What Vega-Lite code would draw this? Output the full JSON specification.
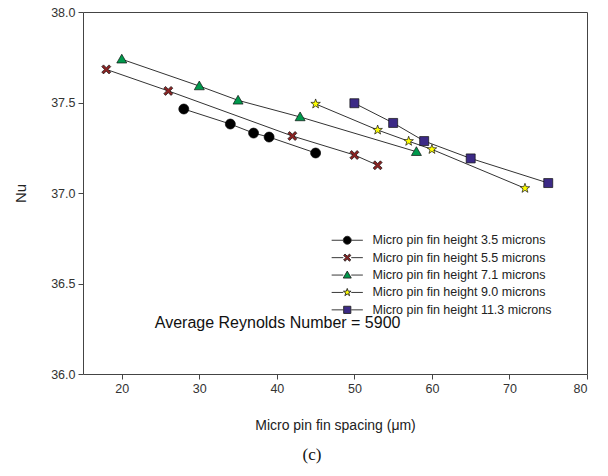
{
  "$schema": "https://vega.github.io/schema/vega-lite/v6.json",
  "width": 504,
  "height": 362,
  "autosize": "none",
  "padding": {"left": 83, "top": 12, "right": 21, "bottom": 102},
  "background": "white",
  "config": {
    "font": "Liberation Sans",
    "view": {"stroke": "#444", "strokeWidth": 1},
    "axis": {"grid": false, "domain": false, "tickColor": "#444", "tickSize": 5, "labelFont": "Liberation Sans", "labelFontSize": 12.5, "labelColor": "#333", "titleFont": "Liberation Sans", "titleFontSize": 14, "titleFontWeight": "normal", "titleColor": "#222"},
    "legend": {"title": null, "orient": "none", "legendX": 258, "legendY": 222, "padding": 0, "symbolSize": 64, "labelOffset": 19, "labelFontSize": 12.5, "labelColor": "#222", "labelFont": "Liberation Sans", "rowPadding": 4.4, "labelLimit": 300}
  },
  "title": {"text": "(c)", "orient": "bottom", "font": "Liberation Serif", "fontSize": 17, "fontWeight": "normal", "color": "#111", "anchor": "middle", "dx": -23, "offset": 14},
  "data": {"values": [
    {"series": "Micro pin fin height 3.5 microns", "spacing": 28, "nu": 37.464},
    {"series": "Micro pin fin height 3.5 microns", "spacing": 34, "nu": 37.381},
    {"series": "Micro pin fin height 3.5 microns", "spacing": 37, "nu": 37.331},
    {"series": "Micro pin fin height 3.5 microns", "spacing": 39, "nu": 37.309},
    {"series": "Micro pin fin height 3.5 microns", "spacing": 45, "nu": 37.221},
    {"series": "Micro pin fin height 5.5 microns", "spacing": 18, "nu": 37.683},
    {"series": "Micro pin fin height 5.5 microns", "spacing": 26, "nu": 37.564},
    {"series": "Micro pin fin height 5.5 microns", "spacing": 42, "nu": 37.315},
    {"series": "Micro pin fin height 5.5 microns", "spacing": 50, "nu": 37.21},
    {"series": "Micro pin fin height 5.5 microns", "spacing": 53, "nu": 37.153},
    {"series": "Micro pin fin height 7.1 microns", "spacing": 20, "nu": 37.739},
    {"series": "Micro pin fin height 7.1 microns", "spacing": 30, "nu": 37.591},
    {"series": "Micro pin fin height 7.1 microns", "spacing": 35, "nu": 37.512},
    {"series": "Micro pin fin height 7.1 microns", "spacing": 43, "nu": 37.42},
    {"series": "Micro pin fin height 7.1 microns", "spacing": 58, "nu": 37.228},
    {"series": "Micro pin fin height 9.0 microns", "spacing": 45, "nu": 37.492},
    {"series": "Micro pin fin height 9.0 microns", "spacing": 53, "nu": 37.348},
    {"series": "Micro pin fin height 9.0 microns", "spacing": 57, "nu": 37.286},
    {"series": "Micro pin fin height 9.0 microns", "spacing": 60, "nu": 37.241},
    {"series": "Micro pin fin height 9.0 microns", "spacing": 72, "nu": 37.026},
    {"series": "Micro pin fin height 11.3 microns", "spacing": 50, "nu": 37.496},
    {"series": "Micro pin fin height 11.3 microns", "spacing": 55, "nu": 37.387},
    {"series": "Micro pin fin height 11.3 microns", "spacing": 59, "nu": 37.287},
    {"series": "Micro pin fin height 11.3 microns", "spacing": 65, "nu": 37.191},
    {"series": "Micro pin fin height 11.3 microns", "spacing": 75, "nu": 37.055}
  ]},
  "layer": [
    {
      "mark": {"type": "line", "color": "#333", "strokeWidth": 1},
      "encoding": {
        "x": {"field": "spacing", "type": "quantitative", "scale": {"domain": [15, 80], "nice": false, "zero": false}, "axis": {"title": "Micro pin fin spacing (\u03bcm)", "values": [20, 30, 40, 50, 60, 70, 80], "labelPadding": 3, "titlePadding": 24}},
        "y": {"field": "nu", "type": "quantitative", "scale": {"domain": [36, 38], "nice": false, "zero": false}, "axis": {"title": "Nu", "values": [36, 36.5, 37, 37.5, 38], "format": ".1f", "labelPadding": 3, "titlePadding": 22, "titleFontSize": 15}},
        "detail": {"field": "series"}
      }
    },
    {
      "mark": {"type": "point", "filled": true, "size": 100, "stroke": "#111", "strokeWidth": 0.7, "opacity": 1},
      "encoding": {
        "x": {"field": "spacing", "type": "quantitative"},
        "y": {"field": "nu", "type": "quantitative"},
        "fill": {"field": "series", "type": "nominal", "sort": null,
          "scale": {"domain": ["Micro pin fin height 3.5 microns", "Micro pin fin height 5.5 microns", "Micro pin fin height 7.1 microns", "Micro pin fin height 9.0 microns", "Micro pin fin height 11.3 microns"],
            "range": ["#000000", "#8B2323", "#00994C", "#FFFF00", "#3C2A86"]},
          "legend": {
            "symbolType": {"signal": "'M-3.9,0H-1M1,0H3.9' + scale('shape', datum.value)"},
            "symbolStrokeColor": "#222",
            "symbolStrokeWidth": 0.9,
            "symbolOpacity": 1}},
        "shape": {"field": "series", "type": "nominal", "sort": null, "legend": null,
          "scale": {"domain": ["Micro pin fin height 11.3 microns", "Micro pin fin height 9.0 microns", "Micro pin fin height 7.1 microns", "Micro pin fin height 5.5 microns", "Micro pin fin height 3.5 microns"],
            "range": [
              "M-0.9,-0.9H0.9V0.9H-0.9Z",
              "M0,-1L0.235,-0.324L0.951,-0.309L0.38,0.124L0.588,0.809L0,0.4L-0.588,0.809L-0.38,0.124L-0.951,-0.309L-0.235,-0.324Z",
              "M0,-1L1,0.75L-1,0.75Z",
              "M-0.9,-0.55L-0.55,-0.9L0,-0.35L0.55,-0.9L0.9,-0.55L0.35,0L0.9,0.55L0.55,0.9L0,0.35L-0.55,0.9L-0.9,0.55L-0.35,0Z",
              "M-1,0A1,1,0,1,1,1,0A1,1,0,1,1,-1,0Z"
            ]}}
      }
    },
    {
      "data": {"values": [{"label": "Average Reynolds Number = 5900"}]},
      "mark": {"type": "text", "fontSize": 16, "font": "Liberation Sans", "color": "#111", "align": "center", "baseline": "middle"},
      "encoding": {"x": {"datum": 40.1}, "y": {"datum": 36.282}, "text": {"field": "label"}}
    }
  ]
}
